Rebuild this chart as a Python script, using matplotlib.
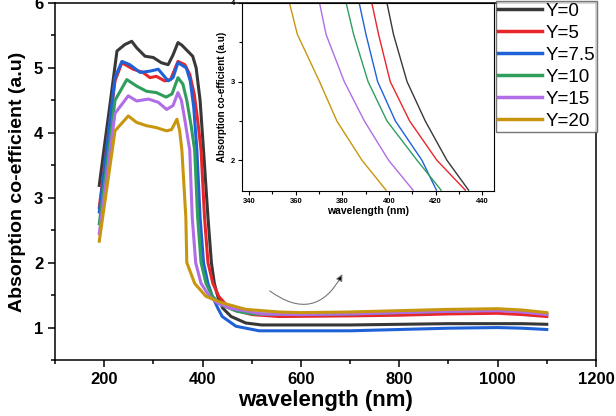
import matplotlib
matplotlib.use("Agg")
import matplotlib.pyplot as plt
from matplotlib.ticker import MultipleLocator

plt.rcParams['font.family'] = ['Liberation Sans', 'DejaVu Sans']

# main spectra (wavelength nm, absorption a.u.)
x_y0 = [190, 200, 212, 226, 242, 256, 266, 283, 300, 316, 330, 340, 350, 358, 367, 380, 387, 395, 402, 411, 418, 424, 431, 441, 458, 488, 520, 600, 700, 800, 900, 1000, 1050, 1100]
a_y0 = [3.19, 3.77, 4.45, 5.26, 5.36, 5.41, 5.31, 5.18, 5.16, 5.08, 5.05, 5.2, 5.39, 5.35, 5.28, 5.18, 5.0, 4.5, 3.73, 2.7, 2.0, 1.68, 1.48, 1.3, 1.17, 1.07, 1.04, 1.04, 1.04, 1.05, 1.06, 1.06, 1.06, 1.05]

x_y5 = [190, 222, 236, 259, 279, 293, 306, 323, 335, 350, 364, 374, 383, 390, 397, 404, 411, 421, 433, 448, 461, 500, 555, 700, 800, 900, 1000, 1050, 1100]
a_y5 = [2.85, 4.8, 5.08, 4.98, 4.93, 4.85, 4.87, 4.80, 4.82, 5.10, 5.05, 4.9, 4.6, 4.2, 3.73, 2.7, 2.0, 1.68, 1.48, 1.35, 1.28, 1.2, 1.17, 1.18, 1.19, 1.21, 1.22, 1.2, 1.17]

x_y75 = [190, 222, 236, 252, 273, 293, 310, 330, 340, 350, 367, 375, 382, 388.5, 395, 402, 411, 420, 431, 440, 468, 515, 600, 700, 800, 900, 1000, 1050, 1100]
a_y75 = [2.78, 4.85, 5.10, 5.05, 4.93, 4.95, 4.98, 4.80, 4.85, 5.08, 5.0, 4.8, 4.4, 3.73, 2.7, 2.0, 1.68, 1.48, 1.3, 1.17, 1.02, 0.95, 0.95, 0.95, 0.97, 0.99, 1.0, 0.99, 0.97]

x_y10 = [190, 222, 246, 266, 286, 306, 326, 338, 350, 360, 368, 377, 384, 390, 397, 407, 420, 438, 470, 500, 600, 700, 800, 900, 1000, 1050, 1100]
a_y10 = [2.6, 4.5, 4.82, 4.72, 4.64, 4.62, 4.55, 4.6, 4.85, 4.75, 4.5, 4.1, 3.73, 2.7, 2.0, 1.68, 1.48, 1.35, 1.25, 1.21, 1.2, 1.21, 1.23, 1.25, 1.27, 1.25, 1.21]

x_y15 = [190, 222, 249, 266, 290, 310, 327, 340, 350, 357, 364, 374, 379, 386, 397, 414, 430, 455, 520, 600, 700, 800, 900, 1000, 1050, 1100]
a_y15 = [2.45, 4.3, 4.57, 4.49, 4.52, 4.47, 4.36, 4.42, 4.62, 4.5, 4.2, 3.73, 2.7, 2.0, 1.68, 1.48, 1.38, 1.3, 1.21, 1.2, 1.21, 1.23, 1.25, 1.26, 1.24, 1.2]

x_y20 = [190, 222, 249, 266, 286, 306, 327, 337, 348, 353.5, 358, 366, 368, 384, 407, 440, 488, 555, 600, 700, 800, 900, 1000, 1050, 1100]
a_y20 = [2.33, 4.03, 4.26, 4.16, 4.11, 4.08, 4.03, 4.05, 4.21, 4.03, 3.73, 2.7, 2.0, 1.68, 1.48, 1.38, 1.28, 1.24, 1.23, 1.24, 1.26, 1.28, 1.29, 1.27, 1.23]

# inset (band edge zoom)
ix_y0 = [399.1, 401.9, 407.7, 415.5, 424.8, 434.1]
ia_y0 = [4.0, 3.6, 3.0, 2.5, 2.0, 1.62]
ix_y5 = [392.6, 395.5, 400.5, 408.8, 420.5, 432.7]
ia_y5 = [4.0, 3.6, 3.0, 2.5, 2.0, 1.62]
ix_y75 = [387.2, 390.1, 395.1, 402.7, 414.1, 420.3]
ia_y75 = [4.0, 3.6, 3.0, 2.5, 2.0, 1.62]
ix_y10 = [381.6, 384.8, 391.0, 399.1, 412.0, 422.3]
ia_y10 = [4.0, 3.6, 3.0, 2.5, 2.0, 1.62]
ix_y15 = [370.2, 373.0, 380.8, 389.4, 399.8, 410.3]
ia_y15 = [4.0, 3.6, 3.0, 2.5, 2.0, 1.62]
ix_y20 = [357.3, 360.7, 370.2, 377.6, 388.4, 398.7]
ia_y20 = [4.0, 3.6, 3.0, 2.5, 2.0, 1.62]

labels = ['Y=0', 'Y=5', 'Y=7.5', 'Y=10', 'Y=15', 'Y=20']
colors = ['#383838', '#e8262a', '#1f62d8', '#2f9e5c', '#b06de6', '#c8960e']

main_x = [x_y0, x_y5, x_y75, x_y10, x_y15, x_y20]
main_a = [a_y0, a_y5, a_y75, a_y10, a_y15, a_y20]
ins_x = [ix_y0, ix_y5, ix_y75, ix_y10, ix_y15, ix_y20]
ins_a = [ia_y0, ia_y5, ia_y75, ia_y10, ia_y15, ia_y20]

fig = plt.figure(figsize=(6.16, 4.16), dpi=100)
ax = fig.add_axes([0.0893, 0.1346, 0.8782, 0.8582])

lines = []
for x, a, c, lab in zip(main_x, main_a, colors, labels):
    ln, = ax.plot(x, a, color=c, lw=2.2, label=lab, solid_joinstyle='round')
    lines.append(ln)

ax.set_xlim(100, 1200)
ax.set_ylim(0.5, 6)
ax.xaxis.set_major_locator(MultipleLocator(200))
ax.xaxis.set_minor_locator(MultipleLocator(100))
ax.yaxis.set_major_locator(MultipleLocator(1))
ax.yaxis.set_minor_locator(MultipleLocator(0.5))
ax.tick_params(which='major', direction='out', length=5, width=1.1, labelsize=12)
ax.tick_params(which='minor', direction='out', length=3, width=1.1)
for lab in ax.get_xticklabels() + ax.get_yticklabels():
    lab.set_fontweight('bold')
for s in ax.spines.values():
    s.set_linewidth(1.1)
ax.set_xlabel('wavelength (nm)', fontsize=16, fontweight='bold', labelpad=2)
ax.set_ylabel('Absorption co-efficient (a.u)', fontsize=14, fontweight='bold', labelpad=6)

# curved arrow pointing to the inset
ax.annotate('', xy=(687, 1.86), xytext=(532, 1.59),
            arrowprops=dict(arrowstyle='-|>', ec='#777777', fc='black', lw=0.8,
                            connectionstyle='arc3,rad=0.6', mutation_scale=10))

# inset
ins = fig.add_axes([0.393, 0.541, 0.409, 0.452])
for x, a, c in zip(ins_x, ins_a, colors):
    ins.plot(x, a, color=c, lw=1.0)
ins.set_xlim(337, 445)
ins.set_ylim(1.61, 4.0)
ins.xaxis.set_major_locator(MultipleLocator(20))
ins.xaxis.set_minor_locator(MultipleLocator(10))
ins.yaxis.set_major_locator(MultipleLocator(1))
ins.yaxis.set_minor_locator(MultipleLocator(0.5))
ins.tick_params(which='major', direction='out', length=3, width=0.8, labelsize=5.5, pad=2)
ins.tick_params(which='minor', direction='out', length=2, width=0.8)
for lab in ins.get_xticklabels() + ins.get_yticklabels():
    lab.set_fontweight('bold')
for s in ins.spines.values():
    s.set_linewidth(0.8)
ins.set_xlabel('wavelength (nm)', fontsize=7.5, fontweight='bold', labelpad=1)
ins.set_ylabel('Absorption co-efficient (a.u)', fontsize=7, fontweight='bold', labelpad=3)

leg = fig.legend(handles=lines, labels=labels, loc='upper left', bbox_to_anchor=(496 / 616, 0.998),
                 fontsize=13.5, frameon=True, fancybox=False, edgecolor='#555555',
                 borderpad=0.1, labelspacing=0.26, handlelength=2.35, handletextpad=0.2,
                 borderaxespad=0)
leg.get_frame().set_linewidth(1.0)
for h in leg.legend_handles:
    h.set_linewidth(2.5)

fig.savefig('out.png', dpi=100)
